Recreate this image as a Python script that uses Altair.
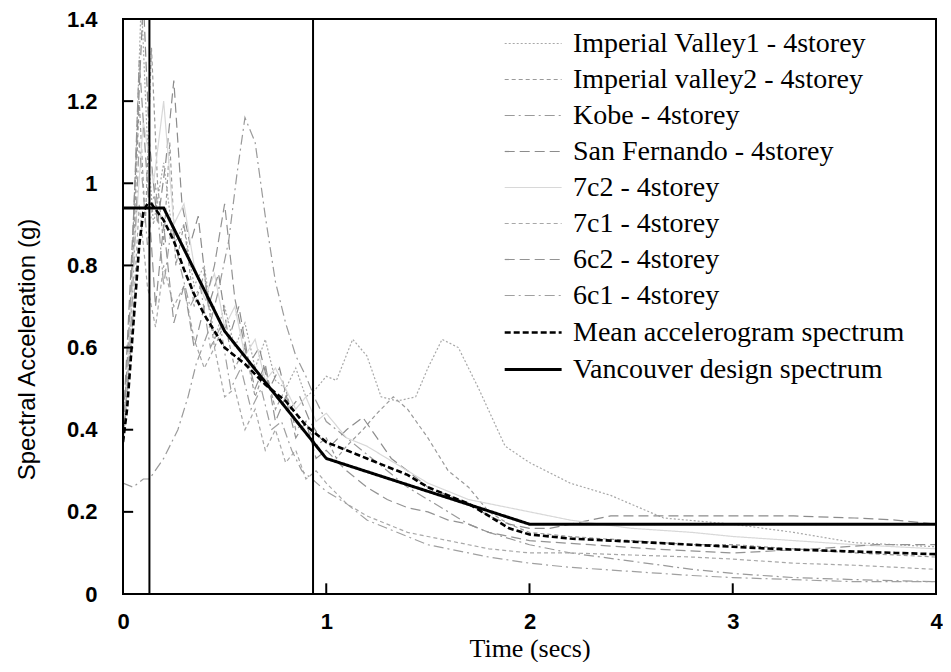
import altair as alt
import pandas as pd

# ---------------- data ----------------
names = [
    "Imperial Valley1 - 4storey",
    "Imperial valley2 - 4storey",
    "Kobe - 4storey",
    "San Fernando - 4storey",
    "7c2 - 4storey",
    "7c1 - 4storey",
    "6c2 - 4storey",
    "6c1 - 4storey",
    "Mean accelerogram spectrum",
    "Vancouver design spectrum",
]

iv1_t = [0, 0.03, 0.06, 0.09, 0.12, 0.15, 0.2, 0.25, 0.3, 0.35, 0.4, 0.45, 0.5, 0.55, 0.6, 0.65, 0.7, 0.75, 0.8, 0.85,
         0.9, 0.95, 1.0, 1.05, 1.13, 1.2, 1.27, 1.35, 1.44, 1.5, 1.57, 1.65, 1.75, 1.88, 2.0, 2.2, 2.4, 2.66, 3.0, 3.3, 3.6, 4.0]
iv1_v = [0.36, 0.55, 1.0, 1.45, 1.1, 0.9, 1.05, 0.85, 0.9, 0.75, 0.8, 0.62, 0.7, 0.6, 0.66, 0.55, 0.62, 0.52, 0.5, 0.55,
         0.48, 0.5, 0.53, 0.52, 0.62, 0.58, 0.48, 0.47, 0.48, 0.55, 0.62, 0.6, 0.5, 0.36, 0.32, 0.27, 0.24, 0.185, 0.17, 0.15, 0.125, 0.115]

iv2_t = [0, 0.04, 0.08, 0.11, 0.14, 0.17, 0.2, 0.23, 0.26, 0.3, 0.35, 0.4, 0.45, 0.5, 0.55, 0.6, 0.65, 0.7, 0.75, 0.8,
         0.85, 0.9, 0.95, 1.0, 1.05, 1.1, 1.18, 1.25, 1.33, 1.4, 1.5, 1.6, 1.7, 1.8, 1.9, 2.0, 2.2, 2.5, 2.8, 3.0, 3.3, 3.6, 4.0]
iv2_v = [0.38, 0.7, 1.2, 0.9, 1.33, 1.0, 0.85, 1.1, 0.8, 0.9, 0.7, 0.78, 0.6, 0.66, 0.55, 0.6, 0.48, 0.55, 0.45, 0.5,
         0.4, 0.42, 0.36, 0.38, 0.33, 0.36, 0.4, 0.44, 0.48, 0.45, 0.38, 0.3, 0.26, 0.2, 0.17, 0.15, 0.14, 0.13, 0.12, 0.12, 0.11, 0.1, 0.09]

kobe_t = [0, 0.05, 0.1, 0.13, 0.2, 0.27, 0.32, 0.36, 0.42, 0.47, 0.52, 0.56, 0.6, 0.65, 0.7, 0.75, 0.8, 0.85, 0.9, 0.95,
          1.0, 1.1, 1.2, 1.3, 1.4, 1.5, 1.6, 1.7, 1.8, 2.0, 2.2, 2.5, 2.8, 3.0, 3.3, 3.6, 4.0]
kobe_v = [0.27, 0.26, 0.28, 0.28, 0.33, 0.4, 0.48, 0.56, 0.64, 0.74, 0.86, 1.02, 1.16, 1.1, 0.92, 0.76, 0.66, 0.58, 0.53, 0.47,
          0.42, 0.38, 0.34, 0.3, 0.26, 0.23, 0.2, 0.17, 0.15, 0.12, 0.1, 0.08, 0.06, 0.05, 0.04, 0.035, 0.03]

sf_t = [0, 0.05, 0.1, 0.13, 0.17, 0.21, 0.25, 0.29, 0.33, 0.37, 0.42, 0.47, 0.52, 0.57, 0.62, 0.67, 0.72, 0.77, 0.82, 0.87,
        0.92, 0.97, 1.02, 1.1, 1.18, 1.25, 1.32, 1.4, 1.5, 1.6, 1.7, 1.8, 1.9, 2.0, 2.1, 2.25, 2.4, 2.7, 3.0, 3.3, 3.6, 3.8, 4.0]
sf_v = [0.4, 0.9, 1.45, 1.1, 0.9, 1.05, 1.25, 0.95, 0.85, 0.92, 0.7, 0.78, 0.62, 0.7, 0.56, 0.6, 0.5, 0.55, 0.45, 0.48,
        0.42, 0.38, 0.36, 0.4, 0.43, 0.38, 0.33, 0.3, 0.26, 0.24, 0.22, 0.19, 0.17, 0.16, 0.16, 0.175, 0.19, 0.19, 0.19, 0.19, 0.185, 0.18, 0.17]

c72_t = [0, 0.05, 0.1, 0.15, 0.2, 0.25, 0.3, 0.35, 0.4, 0.45, 0.5, 0.55, 0.6, 0.65, 0.7, 0.75, 0.8, 0.85, 0.9, 0.95,
         1.0, 1.1, 1.2, 1.3, 1.4, 1.5, 1.6, 1.7, 1.8, 1.9, 2.0, 2.2, 2.5, 2.8, 3.0, 3.3, 3.6, 4.0]
c72_v = [0.35, 0.8, 1.15, 1.0, 1.2, 0.9, 0.95, 0.8, 0.72, 0.78, 0.65, 0.7, 0.58, 0.62, 0.52, 0.55, 0.5, 0.45, 0.48, 0.42,
         0.44, 0.38, 0.36, 0.33, 0.3, 0.27, 0.25, 0.23, 0.22, 0.21, 0.2, 0.18, 0.16, 0.15, 0.14, 0.13, 0.12, 0.11]

c71_t = [0, 0.04, 0.08, 0.12, 0.16, 0.2, 0.25, 0.3, 0.35, 0.4, 0.45, 0.5, 0.55, 0.6, 0.65, 0.7, 0.75, 0.8, 0.85, 0.9,
         0.95, 1.0, 1.1, 1.2, 1.3, 1.4, 1.5, 1.6, 1.7, 1.8, 2.0, 2.2, 2.5, 2.8, 3.0, 3.3, 3.6, 4.0]
c71_v = [0.36, 0.6, 0.95, 0.75, 0.65, 0.8, 0.7, 0.75, 0.62, 0.55, 0.6, 0.48, 0.5, 0.4, 0.45, 0.35, 0.4, 0.32, 0.35, 0.28,
         0.3, 0.27, 0.22, 0.19, 0.17, 0.15, 0.14, 0.13, 0.12, 0.11, 0.1, 0.1, 0.095, 0.09, 0.085, 0.075, 0.07, 0.06]

c62_t = [0, 0.04, 0.08, 0.12, 0.16, 0.2, 0.25, 0.3, 0.35, 0.4, 0.45, 0.5, 0.55, 0.6, 0.65, 0.7, 0.75, 0.8, 0.85, 0.9,
         0.95, 1.0, 1.1, 1.2, 1.3, 1.4, 1.5, 1.6, 1.7, 1.8, 1.9, 2.0, 2.3, 2.6, 3.0, 3.4, 3.7, 4.0]
c62_v = [0.37, 0.75, 1.3, 1.0, 0.7, 0.9, 0.66, 0.75, 0.6, 0.7, 0.8, 0.95, 0.72, 0.6, 0.5, 0.56, 0.42, 0.48, 0.38, 0.42,
         0.33, 0.35, 0.3, 0.26, 0.23, 0.21, 0.2, 0.18, 0.17, 0.15, 0.14, 0.13, 0.12, 0.11, 0.1, 0.11, 0.12, 0.12]

c61_t = [0, 0.04, 0.08, 0.12, 0.16, 0.2, 0.24, 0.28, 0.33, 0.38, 0.43, 0.48, 0.53, 0.58, 0.63, 0.68, 0.73, 0.78, 0.83, 0.88,
         0.93, 1.0, 1.1, 1.2, 1.3, 1.4, 1.5, 1.6, 1.7, 1.8, 2.0, 2.2, 2.5, 2.8, 3.0, 3.3, 3.6, 4.0]
c61_v = [0.36, 0.65, 1.1, 0.85, 1.0, 0.75, 0.9, 0.8, 0.7, 0.75, 0.6, 0.65, 0.5, 0.55, 0.45, 0.5, 0.4, 0.42, 0.35, 0.3,
         0.28, 0.25, 0.22, 0.18, 0.16, 0.14, 0.12, 0.11, 0.1, 0.09, 0.075, 0.065, 0.055, 0.045, 0.04, 0.035, 0.03, 0.03]

mean_t = [0, 0.02, 0.05, 0.08, 0.1, 0.12, 0.14, 0.17, 0.2, 0.25, 0.3, 0.35, 0.4, 0.45, 0.5, 0.6, 0.7, 0.8, 0.9, 1.0,
          1.1, 1.2, 1.3, 1.4, 1.5, 1.6, 1.7, 1.8, 1.9, 2.0, 2.2, 2.4, 2.6, 2.8, 3.0, 3.2, 3.5, 3.8, 4.0]
mean_v = [0.37, 0.45, 0.65, 0.85, 0.93, 0.95, 0.95, 0.93, 0.91, 0.86, 0.79, 0.73, 0.68, 0.64, 0.6, 0.56, 0.51, 0.47, 0.41, 0.37,
          0.35, 0.33, 0.31, 0.29, 0.26, 0.24, 0.22, 0.19, 0.16, 0.145, 0.135, 0.13, 0.125, 0.12, 0.115, 0.11, 0.105, 0.1, 0.097]

van_t = [0, 0.2, 0.5, 1.0, 2.0, 4.0]
van_v = [0.94, 0.94, 0.64, 0.33, 0.17, 0.17]

series_t = [iv1_t, iv2_t, kobe_t, sf_t, c72_t, c71_t, c62_t, c61_t, mean_t, van_t]
series_v = [iv1_v, iv2_v, kobe_v, sf_v, c72_v, c71_v, c62_v, c61_v, mean_v, van_v]

colors = ["#a8a8a8", "#9a9a9a", "#9a9a9a", "#8c8c8c", "#d8d8d8", "#a8a8a8", "#939393", "#a0a0a0", "#000000", "#000000"]
dashes = [[2, 2], [4, 3], [10, 4, 2, 4], [10, 5], [1, 0], [4, 3], [10, 5], [10, 4, 2, 4], [6, 3], [1, 0]]
widths = [1.2, 1.2, 1.2, 1.2, 1.2, 1.2, 1.2, 1.2, 2.6, 3.0]

period_lines = [0.13, 0.935]
y_ticks = [0.2, 0.4, 0.6, 0.8, 1.0, 1.2]
x_ticks = [1, 2, 3]
x_range = [0, 4]
y_range = [0, 1.4]

rows = []
for n, ts, vs in zip(names, series_t, series_v):
    for t, v in zip(ts, vs):
        rows.append({"series": n, "t": t, "v": v, "order": names.index(n)})
df = pd.DataFrame(rows)

xscale = alt.Scale(domain=x_range, nice=False)
yscale = alt.Scale(domain=y_range, nice=False)

x_axis = alt.Axis(values=[0, 1, 2, 3, 4], labelExpr="format(datum.value, '~g')", title="Time (secs)",
                  domain=False, ticks=False, grid=False, labelFont="Liberation Sans", labelFontWeight="bold",
                  labelFontSize=22, labelColor="#000", labelPadding=17, labelFlush=False,
                  titleFont="Liberation Serif", titleFontSize=26, titleFontWeight="normal", titleColor="#000",
                  titleY=62, titleBaseline="alphabetic")
y_axis = alt.Axis(values=[0, 0.2, 0.4, 0.6, 0.8, 1.0, 1.2, 1.4], labelExpr="format(datum.value, '~g')",
                  title="Spectral Acceleration  (g)", domain=False, ticks=False, grid=False,
                  labelFont="Liberation Sans", labelFontWeight="bold", labelFontSize=22, labelColor="#000",
                  labelPadding=26, labelFlush=False,
                  titleFont="Liberation Sans", titleFontSize=24, titleFontWeight="normal", titleColor="#000",
                  titleX=-96, titleY=330, titleBaseline="middle")

legend = alt.Legend(title=None, orient="none", legendX=380, legendY=8, symbolType="M-1,0H2.6",
                    symbolSize=1000, labelFont="Liberation Serif", labelFontSize=28, labelColor="#000",
                    labelOffset=35, labelLimit=0, rowPadding=5, padding=0)

lines = alt.Chart(df).mark_line(clip=True).encode(
    x=alt.X("t:Q", scale=xscale, axis=x_axis),
    y=alt.Y("v:Q", scale=yscale, axis=y_axis),
    color=alt.Color("series:N", sort=names, scale=alt.Scale(type="ordinal", domain=names, range=colors), legend=legend),
    strokeDash=alt.StrokeDash("series:N", sort=names, scale=alt.Scale(type="ordinal", domain=names, range=dashes), legend=legend),
    strokeWidth=alt.StrokeWidth("series:N", sort=names, scale=alt.Scale(type="ordinal", domain=names, range=widths), legend=legend),
    order="order:Q",
    detail="series:N",
)

frame = alt.Chart(pd.DataFrame({"x0": [x_range[0]], "x1": [x_range[1]], "y0": [y_range[0]], "y1": [y_range[1]]})).mark_rect(
    fillOpacity=0, stroke="black", strokeWidth=2
).encode(x=alt.X("x0:Q", scale=xscale), x2="x1:Q", y=alt.Y("y0:Q", scale=yscale), y2="y1:Q")

vlines = alt.Chart(pd.DataFrame({"t": period_lines})).mark_rule(color="black", strokeWidth=2).encode(
    x=alt.X("t:Q", scale=xscale)
)

ytick_df = pd.DataFrame({"v": y_ticks, "x0": [0] * len(y_ticks), "x1": [0.05] * len(y_ticks)})
yticks = alt.Chart(ytick_df).mark_rule(color="black", strokeWidth=2).encode(
    x=alt.X("x0:Q", scale=xscale), x2="x1:Q", y=alt.Y("v:Q", scale=yscale)
)
xtick_df = pd.DataFrame({"t": x_ticks, "y0": [0] * len(x_ticks), "y1": [0.026] * len(x_ticks)})
xticks = alt.Chart(xtick_df).mark_rule(color="black", strokeWidth=2).encode(
    x=alt.X("t:Q", scale=xscale), y=alt.Y("y0:Q", scale=yscale), y2="y1:Q"
)

chart = alt.layer(lines, frame, vlines, yticks, xticks).properties(
    width=813, height=575,
    autosize=alt.AutoSizeParams(type="none"),
    padding={"left": 115, "top": 11, "right": 7, "bottom": 68},
).configure_view(stroke=None)

chart.save("out.html", embed_options={"renderer": "svg", "actions": False})
